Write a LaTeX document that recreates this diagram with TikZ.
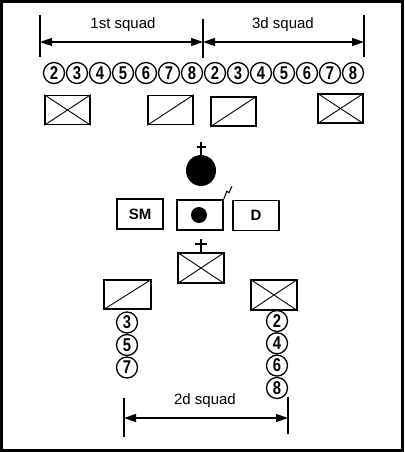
\documentclass[tikz,border=0pt]{standalone}
\usepackage{fontspec}
\setmainfont{Liberation Sans}
\newfontfamily\condfont[FakeStretch=0.8]{Liberation Sans}
\usetikzlibrary{arrows.meta,shapes.geometric}
\begin{document}
\begin{tikzpicture}[x=1pt,y=-1pt,
  man/.style={circle,draw,line width=1.3pt,minimum size=21pt,inner sep=0pt,
    font=\condfont\bfseries\fontsize{18.5}{18.5}\selectfont},
  teambox/.style={rectangle,draw,line width=1.6pt,minimum width=45pt,minimum height=29pt,inner sep=0pt},
  ldrbox/.style={rectangle,draw,line width=1.5pt,minimum width=46pt,minimum height=30pt,inner sep=0pt,
    font=\bfseries\fontsize{15}{15}\selectfont},
  inner/.style={line width=0.9pt},
  bar/.style={line width=2pt},
  dim/.style={line width=1.3pt,{Triangle[length=12pt,width=8pt]}-{Triangle[length=12pt,width=8pt]}},
  lbl/.style={font=\fontsize{15}{17}\selectfont,inner sep=0pt}
]
\useasboundingbox (0,0) rectangle (404,452);
\draw[line width=3pt] (1.5,1.5) rectangle (402.5,450.5);

% top dimension lines
\coordinate (t1a) at (40,15); \coordinate (t1b) at (40,57);
\coordinate (t2a) at (203,19); \coordinate (t2b) at (203,58);
\coordinate (t3a) at (364,15); \coordinate (t3b) at (364,57);
\draw[bar] (t1a) -- (t1b);
\draw[bar] (t2a) -- (t2b);
\draw[bar] (t3a) -- (t3b);
\coordinate (d1) at (40,42); \coordinate (d2) at (203,42); \coordinate (d3) at (364,42);
\draw[dim] (d1) -- (d2);
\draw[dim] (d2) -- (d3);
\node[lbl] (l1) at (123,25) {1st squad};
\node[lbl] (l3) at (283,25) {3d squad};

% top row of soldiers
\foreach \n [count=\i from 0] in {2,3,4,5,6,7,8}{
  \node[man] (a\n) at (54+23*\i,73) {\n};
}
\foreach \n [count=\i from 7] in {2,3,4,5,6,7,8}{
  \node[man] (c\n) at (54+23*\i,73) {\n};
}

% team boxes top
\node[teambox] (b1) at (67.5,110) {};
\draw[inner] (b1.south west) -- (b1.north east) (b1.north west) -- (b1.south east);
\node[teambox] (b2) at (170.5,110) {};
\draw[inner] (b2.south west) -- (b2.north east);
\node[teambox] (b3) at (233.5,111.5) {};
\draw[inner] (b3.south west) -- (b3.north east);
\node[teambox] (b4) at (340.5,108.5) {};
\draw[inner] (b4.south west) -- (b4.north east) (b4.north west) -- (b4.south east);

% platoon leader
\node[ellipse,fill=black,minimum width=30pt,minimum height=31pt,inner sep=0pt] (pl) at (201,170.5) {};
\coordinate (plc) at (201,142);
\draw[line width=1.3pt] (plc) -- (pl.north);
\draw[line width=1.3pt] (196.5,147) -- (205.5,147);

% HQ row
\node[ldrbox] (sm) at (140,214) {SM};
\node[ldrbox] (hq) at (200,215) {};
\node[circle,fill=black,minimum size=16pt,inner sep=0pt] (hqd) at (199,215) {};
\node[ldrbox] (dd) at (256,215.5) {D};
\draw[line width=1pt] (hq.north east) -- ++(3,-8) -- ++(2.2,1.5) -- ++(3,-6.5);

% 2d squad leader
\node[teambox,minimum width=46pt,minimum height=30pt] (sq) at (201,268) {};
\draw[inner] (sq.south west) -- (sq.north east) (sq.north west) -- (sq.south east);
\draw[line width=1.3pt] (sq.north) -- ++(0,-13);
\draw[line width=1.3pt] (195,244) -- (207,244);

% 2d squad teams
\node[teambox,minimum width=47pt] (tl) at (127.5,294.5) {};
\draw[inner] (tl.south west) -- (tl.north east);
\node[teambox,minimum width=46pt,minimum height=30pt] (tr) at (274,295) {};
\draw[inner] (tr.south west) -- (tr.north east) (tr.north west) -- (tr.south east);

\node[man] (m3) at (127,322.5) {3};
\node[man] (m5) at (127,345) {5};
\node[man] (m7) at (127,367.5) {7};
\node[man] (m2) at (277,321) {2};
\node[man] (m4) at (277,343.3) {4};
\node[man] (m6) at (277,365.6) {6};
\node[man] (m8) at (277,388) {8};

% bottom dimension
\coordinate (ba) at (124,398); \coordinate (bb) at (124,437);
\coordinate (bc) at (288,397); \coordinate (bd) at (288,434);
\draw[bar] (ba) -- (bb);
\draw[bar] (bc) -- (bd);
\coordinate (e1) at (124,418); \coordinate (e2) at (288,418);
\draw[dim] (e1) -- (e2);
\node[lbl] (l2) at (205,401) {2d squad};
\end{tikzpicture}
\end{document}
